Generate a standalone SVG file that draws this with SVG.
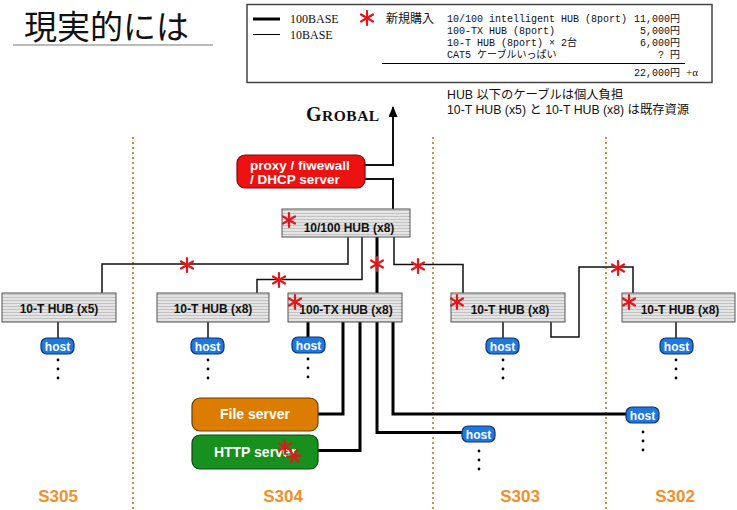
<svg xmlns="http://www.w3.org/2000/svg" width="737" height="510" viewBox="0 0 737 510">
<style>
.sans{font-family:"Liberation Sans","Noto Sans CJK JP",sans-serif}
.hubt{font-family:"Liberation Sans",sans-serif;font-weight:bold;font-size:12px;fill:#111;text-anchor:middle}
.hub{fill:url(#stripes);stroke:#555;stroke-width:1}
.host rect{fill:#1f78e0;stroke:#0b3470;stroke-width:1.2}
.host text{font-family:"Liberation Sans",sans-serif;font-weight:bold;font-size:12px;fill:#fff;text-anchor:middle}
.thin{fill:none;stroke:#111;stroke-width:1.5}
.thick{fill:none;stroke:#000;stroke-width:3}
.mid{fill:none;stroke:#111;stroke-width:2}
.room{stroke:#d58d47;stroke-width:2;stroke-dasharray:2 3}
.rlab{font-family:"Liberation Sans",sans-serif;font-weight:bold;font-size:17px;fill:#f0902a;text-anchor:middle}
.mono{font-family:"Liberation Mono","Noto Sans CJK JP",monospace;font-size:10px;fill:#111}
.srv{font-family:"Liberation Sans",sans-serif;font-weight:bold;font-size:14px;fill:#fff;text-anchor:middle}
</style>
<defs>
<pattern id="stripes" width="4" height="3" patternUnits="userSpaceOnUse">
<rect width="4" height="3" fill="#e4e4e4"/>
<line x1="0" y1="0.5" x2="4" y2="0.5" stroke="#c2c2c2" stroke-width="1"/>
</pattern>
<g id="ast">
<g stroke="#e3171b" stroke-width="2.2" stroke-linecap="round">
<line x1="0" y1="-7" x2="0" y2="7"/>
<line x1="-6" y1="-3.5" x2="6" y2="3.5"/>
<line x1="-6" y1="3.5" x2="6" y2="-3.5"/>
</g>
</g>
<g id="dots"><circle cx="0" cy="0" r="1.4" fill="#000"/><circle cx="0" cy="9" r="1.4" fill="#000"/><circle cx="0" cy="18" r="1.4" fill="#000"/></g>
<marker id="arr" markerWidth="11" markerHeight="9" refX="10" refY="4.5" orient="auto" markerUnits="userSpaceOnUse" viewBox="0 0 11 9">
<path d="M0,0 L11,4.5 L0,9 Z" fill="#000"/>
</marker>
</defs>
<rect width="737" height="510" fill="#fff"/>

<g id="title">
<text x="24" y="39" font-family="Noto Sans CJK JP,sans-serif" font-size="33" fill="#111">現実的には</text>
<line x1="13" y1="45" x2="213" y2="45" stroke="#bbb" stroke-width="2"/>
</g>

<g id="legend">
<rect x="247" y="4.5" width="465" height="78" fill="#fff" stroke="#444" stroke-width="1.5"/>
<line x1="253" y1="19" x2="280" y2="19" stroke="#000" stroke-width="3"/>
<text x="290" y="23" font-family="Liberation Serif,serif" font-size="12" fill="#111">100BASE</text>
<line x1="253" y1="34.5" x2="280" y2="34.5" stroke="#000" stroke-width="1"/>
<text x="290" y="39" font-family="Liberation Serif,serif" font-size="12" fill="#111">10BASE</text>
<use href="#ast" x="367" y="18"/>
<text x="386" y="23" class="sans" font-size="12" fill="#111">新規購入</text>
<text x="447" y="22" class="mono">10/100 intelligent HUB (8port)</text>
<text x="447" y="34" class="mono">100-TX HUB (8port)</text>
<text x="447" y="46" class="mono">10-T HUB (8port) × 2台</text>
<text x="447" y="58" class="mono">CAT5 ケーブルいっぱい</text>
<g class="mono" text-anchor="end">
<text x="680" y="22">11,000円</text>
<text x="680" y="34">5,000円</text>
<text x="680" y="46">6,000円</text>
<text x="680" y="58">? 円</text>
<text x="680" y="76">22,000円</text>
</g>
<text x="686" y="76" font-family="Liberation Serif,serif" font-size="11" fill="#111">+α</text>
<line x1="382" y1="63.5" x2="685" y2="63.5" stroke="#000" stroke-width="1"/>
</g>

<g id="notes" class="sans" font-size="12.3" fill="#111">
<text x="447" y="99">HUB 以下のケーブルは個人負担</text>
<text x="447" y="114">10-T HUB (x5) と 10-T HUB (x8) は既存資源</text>
</g>

<g id="rooms">
<line class="room" x1="133" y1="137" x2="133" y2="510"/>
<line class="room" x1="433" y1="137" x2="433" y2="510"/>
<line class="room" x1="606" y1="137" x2="606" y2="510"/>
<text class="rlab" x="58" y="502">S305</text>
<text class="rlab" x="283" y="502">S304</text>
<text class="rlab" x="520" y="502">S303</text>
<text class="rlab" x="675" y="502">S302</text>
</g>

<g id="connectors">
<path class="mid" d="M365,165 H393 V107" marker-end="url(#arr)"/>
<path class="mid" d="M365,179 H393 V209"/>
<path class="thin" d="M348,237 V264 H102 V293"/>
<path class="thin" d="M362,237 V279.5 H257 V293"/>
<path class="thick" d="M377,237 V293"/>
<path class="thin" d="M394,237 V264.5 H463 V293"/>
<path class="thin" d="M551,322 V337 H579 V267 H633 V293"/>
<path class="thin" d="M58,322 V338"/>
<path class="thin" d="M208,322 V338"/>
<path class="thin" d="M503,322 V338"/>
<path class="thin" d="M676,322 V338"/>
<path class="thick" d="M308,322 V337"/>
<path class="thick" d="M343,322 V414 H318"/>
<path class="thick" d="M360,322 V450.5 H318"/>
<path class="thick" d="M377,322 V432.5 H462"/>
<path class="thick" d="M393,322 V414 H626"/>
</g>

<g id="global">
<text x="306" y="121" font-family="Liberation Serif,serif" font-weight="bold" fill="#111" letter-spacing="0.5"><tspan font-size="20">G</tspan><tspan font-size="15.5">ROBAL</tspan></text>
</g>

<g id="proxy">
<rect x="237" y="155" width="128" height="33" rx="8" fill="#ee1111" stroke="#7a0a0a" stroke-width="1.2"/>
<text x="250" y="170" font-family="Liberation Sans,sans-serif" font-weight="bold" font-size="13.5" fill="#fff">proxy / fiwewall</text>
<text x="250" y="184" font-family="Liberation Sans,sans-serif" font-weight="bold" font-size="13.5" fill="#fff">/ DHCP server</text>
</g>

<g id="hub-main">
<rect class="hub" x="282" y="209" width="128" height="28"/>
<text class="hubt" x="349" y="232" font-size="13">10/100 HUB (x8)</text>
<use href="#ast" x="289" y="220"/>
</g>

<g id="hub-s305">
<rect class="hub" x="2" y="293" width="114" height="29"/>
<text class="hubt" x="59" y="313">10-T HUB (x5)</text>
</g>

<g id="hub-s304">
<rect class="hub" x="157" y="293" width="112" height="29"/>
<text class="hubt" x="213" y="313">10-T HUB (x8)</text>
</g>

<g id="hub-100tx">
<rect class="hub" x="288" y="293" width="114" height="29"/>
<text class="hubt" x="346" y="314">100-TX HUB (x8)</text>
<use href="#ast" x="295" y="302"/>
</g>

<g id="hub-s303">
<rect class="hub" x="451" y="293" width="114" height="29"/>
<text class="hubt" x="510" y="314">10-T HUB (x8)</text>
<use href="#ast" x="457" y="302"/>
</g>

<g id="hub-s302">
<rect class="hub" x="622" y="293" width="113" height="29"/>
<text class="hubt" x="680" y="314">10-T HUB (x8)</text>
<use href="#ast" x="629" y="302"/>
</g>

<g id="cable-marks">
<use href="#ast" x="187" y="265"/>
<use href="#ast" x="279" y="280"/>
<use href="#ast" x="377" y="264"/>
<use href="#ast" x="418" y="266"/>
<use href="#ast" x="618" y="268"/>
</g>

<g id="host-s305" class="host"><rect x="41" y="338" width="33" height="16" rx="6"/><text x="57.5" y="350.5">host</text><use href="#dots" x="58" y="360"/></g>
<g id="host-s304" class="host"><rect x="191" y="338" width="33" height="16" rx="6"/><text x="207.5" y="350.5">host</text><use href="#dots" x="208" y="360"/></g>
<g id="host-100tx" class="host"><rect x="292" y="337" width="33" height="16" rx="6"/><text x="308.5" y="349.5">host</text><use href="#dots" x="308" y="359"/></g>
<g id="host-s303" class="host"><rect x="486" y="338" width="33" height="16" rx="6"/><text x="502.5" y="350.5">host</text><use href="#dots" x="503" y="360"/></g>
<g id="host-s302" class="host"><rect x="660" y="338" width="33" height="16" rx="6"/><text x="676.5" y="350.5">host</text><use href="#dots" x="676" y="360"/></g>
<g id="host-s303b" class="host"><rect x="462" y="426" width="33" height="16" rx="6"/><text x="478.5" y="438.5">host</text><use href="#dots" x="479" y="451"/></g>
<g id="host-s302b" class="host"><rect x="626" y="407" width="33" height="16" rx="6"/><text x="642.5" y="419.5">host</text><use href="#dots" x="643" y="432"/></g>

<g id="file-server">
<rect x="192" y="398" width="126" height="33" rx="8" fill="#dc7d00" stroke="#6a3c00" stroke-width="1.2"/>
<text class="srv" x="255" y="419">File server</text>
</g>

<g id="http-server">
<rect x="192" y="435" width="126" height="34" rx="8" fill="#17901d" stroke="#0b4a0e" stroke-width="1.2"/>
<text class="srv" x="255" y="457">HTTP server</text>
<use href="#ast" x="285" y="447"/>
<g transform="translate(294,456) rotate(25)"><use href="#ast"/></g>
</g>
</svg>
